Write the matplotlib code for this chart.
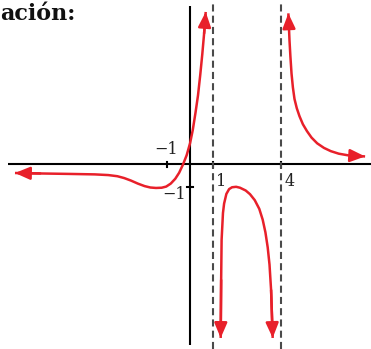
import matplotlib.pyplot as plt

# branch x < 1
left_x = [-7.71, -6.60, -5.30, -4.20, -3.60, -3.20, -2.90, -2.60, -2.30, -2.00,
          -1.75, -1.50, -1.25, -1.05, -0.85, -0.65, -0.48, -0.31, -0.15, 0.00,
          0.12, 0.24, 0.35, 0.45, 0.54, 0.62, 0.69]
left_y = [-0.37, -0.39, -0.41, -0.43, -0.46, -0.51, -0.59, -0.70, -0.83, -0.94,
          -1.00, -1.02, -1.01, -0.96, -0.83, -0.62, -0.36, 0.00, 0.40, 0.92,
          1.50, 2.25, 3.00, 3.90, 4.80, 5.70, 6.63]
# branch 1 < x < 4
mid_x = [1.35, 1.37, 1.39, 1.45, 1.50, 1.60, 1.72, 1.85, 2.03, 2.20, 2.45,
         2.64, 2.85, 3.05, 3.20, 3.32, 3.42, 3.50, 3.57, 3.64]
mid_y = [-7.54, -5.02, -3.28, -2.11, -1.70, -1.28, -1.07, -0.99, -0.97, -1.01,
         -1.13, -1.29, -1.55, -1.93, -2.40, -2.95, -3.60, -4.35, -5.46, -7.54]
# branch x > 4
right_x = [4.33, 4.35, 4.38, 4.42, 4.47, 4.53, 4.60, 4.70, 4.82, 4.97, 5.15,
           5.35, 5.60, 5.90, 6.20, 6.55, 6.95, 7.35, 7.71]
right_y = [6.57, 6.10, 5.40, 4.70, 3.95, 3.35, 2.85, 2.45, 2.10, 1.75, 1.45,
           1.17, 0.92, 0.72, 0.58, 0.47, 0.40, 0.37, 0.35]

asymptotes = [1, 4]
xticks = [-1, 1, 4]
yticks = [-1]

RED = '#e8202a'

fig = plt.figure(figsize=(3.71, 3.49), dpi=100)
ax = fig.add_axes([0, 0, 1, 1])
ax.set_xlim(-8.37, 7.97)
ax.set_ylim(-8.02, 7.15)
ax.axis('off')

# axes
ax.plot([-8.0, 7.97], [0, 0], color='black', lw=1.5, solid_capstyle='butt')
ax.plot([0, 0], [-7.85, 6.9], color='black', lw=1.5, solid_capstyle='butt')
for t in xticks:
    ax.plot([t, t], [-0.13, 0.13], color='black', lw=1.5)
for t in yticks:
    ax.plot([-0.15, 0.15], [t, t], color='black', lw=1.5)

# asymptotes
for a in asymptotes:
    ax.plot([a, a], [-8.02, 7.0], color='#4a4a4a', lw=1.5,
            linestyle=(0, (3.4, 2.0)))


def branch(xs, ys):
    ax.plot(xs, ys, color=RED, lw=1.8, solid_capstyle='butt',
            solid_joinstyle='round')
    style = '-|>,head_length=0.75,head_width=0.32'
    for tip, back in [(0, 1), (-1, -2)]:
        ax.annotate('', xy=(xs[tip], ys[tip]), xytext=(xs[back], ys[back]),
                    arrowprops=dict(arrowstyle=style, color=RED, lw=1.8,
                                    mutation_scale=12, shrinkA=0, shrinkB=0))


branch(left_x, left_y)
branch(mid_x, mid_y)
branch(right_x, right_y)

font = dict(family='DejaVu Serif', fontsize=11.5, color='#222222')
ax.text(-1.05, 0.3, '\u22121', ha='center', va='bottom', **font)
ax.text(1.15, -0.35, '1', ha='left', va='top', **font)
ax.text(4.15, -0.35, '4', ha='left', va='top', **font)
ax.text(-0.2, -0.95, '\u22121', ha='right', va='top', **font)

fig.text(0.0, 0.99, 'ación:', ha='left', va='top', family='DejaVu Serif',
         fontsize=16, fontweight='bold', color='#111111')

fig.savefig('out.png', dpi=100)
